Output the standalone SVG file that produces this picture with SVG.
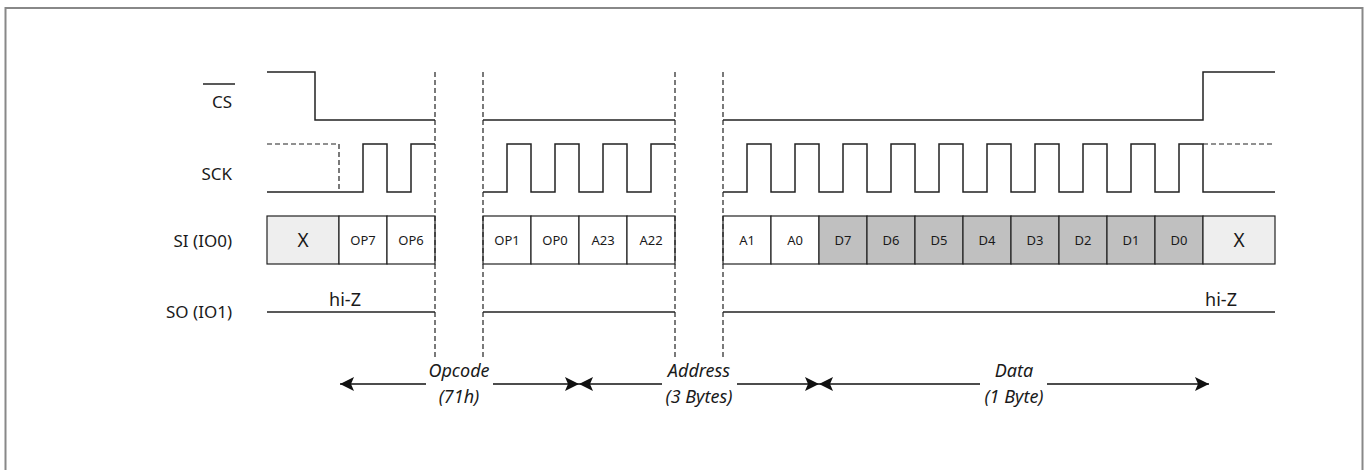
<svg xmlns="http://www.w3.org/2000/svg" width="1370" height="470" viewBox="0 0 1370 470">
<defs>
<style>
.w{fill:none;stroke:#222;stroke-width:1.5}
.d{fill:none;stroke:#222;stroke-width:1.2;stroke-dasharray:5,3}
.cell{stroke:#222;stroke-width:1.2}
.wh{fill:#fff}.gr{fill:#c0c0c0}.lg{fill:#eeeeee}
.lbl{font-family:"Noto Sans","Open Sans",sans-serif;font-size:17px;fill:#1a1a1a;text-anchor:end}
.ct{font-family:"Noto Sans","Open Sans",sans-serif;font-size:13px;fill:#1a1a1a;text-anchor:middle}
.cx{font-family:"Noto Sans","Open Sans",sans-serif;font-size:19px;fill:#1a1a1a;text-anchor:middle}
.hz{font-family:"Noto Sans","Open Sans",sans-serif;font-size:18px;fill:#1a1a1a;text-anchor:middle}
.it{font-family:"Noto Sans","Open Sans",sans-serif;font-size:18px;font-style:italic;fill:#1a1a1a;text-anchor:middle}
.ar{fill:none;stroke:#111;stroke-width:1.3}
</style>
<marker id="ah" viewBox="0 0 14 14" refX="14" refY="7" markerWidth="14" markerHeight="14" markerUnits="userSpaceOnUse" orient="auto-start-reverse">
<path d="M0,0 L14,7 L0,14 L3,7 Z" fill="#111"/>
</marker>
</defs>
<rect x="5.5" y="8" width="1357" height="480" fill="none" stroke="#888" stroke-width="2"/>

<g id="labels">
<text class="lbl" x="232" y="108">CS</text>
<line x1="203" y1="84" x2="235" y2="84" stroke="#222" stroke-width="1.5"/>
<text class="lbl" x="232" y="180">SCK</text>
<text class="lbl" x="232" y="247">SI (IO0)</text>
<text class="lbl" x="232" y="318">SO (IO1)</text>
</g>

<g id="cs">
<polyline class="w" points="267,72 315,72 315,120 435,120"/>
<line class="w" x1="483" y1="120" x2="675" y2="120"/>
<polyline class="w" points="723,120 1203,120 1203,72 1275,72"/>
</g>

<g id="sck">
<polyline class="d" points="267,144 339,144 339,192"/>
<polyline class="w" points="267,192 363,192 363,144 387,144 387,192 411,192 411,144 435,144"/>
<polyline class="w" points="483,192 507,192 507,144 531,144 531,192 555,192 555,144 579,144 579,192 603,192 603,144 627,144 627,192 651,192 651,144 675,144"/>
<polyline class="w" points="723,192 747,192 747,144 771,144 771,192 795,192 795,144 819,144 819,192 843,192 843,144 867,144 867,192 891,192 891,144 915,144 915,192 939,192 939,144 963,144 963,192 987,192 987,144 1011,144 1011,192 1035,192 1035,144 1059,144 1059,192 1083,192 1083,144 1107,144 1107,192 1131,192 1131,144 1155,144 1155,192 1179,192 1179,144 1203,144 1203,192 1275,192"/>
<line class="d" x1="1203" y1="144" x2="1275" y2="144"/>
</g>

<g id="si">
<rect class="cell lg" x="267" y="216" width="72" height="48"/>
<text class="cx" x="303" y="247">X</text>
<rect class="cell wh" x="339" y="216" width="48" height="48"/>
<text class="ct" x="363" y="245">OP7</text>
<rect class="cell wh" x="387" y="216" width="48" height="48"/>
<text class="ct" x="411" y="245">OP6</text>
<rect class="cell wh" x="483" y="216" width="48" height="48"/>
<text class="ct" x="507" y="245">OP1</text>
<rect class="cell wh" x="531" y="216" width="48" height="48"/>
<text class="ct" x="555" y="245">OP0</text>
<rect class="cell wh" x="579" y="216" width="48" height="48"/>
<text class="ct" x="603" y="245">A23</text>
<rect class="cell wh" x="627" y="216" width="48" height="48"/>
<text class="ct" x="651" y="245">A22</text>
<rect class="cell wh" x="723" y="216" width="48" height="48"/>
<text class="ct" x="747" y="245">A1</text>
<rect class="cell wh" x="771" y="216" width="48" height="48"/>
<text class="ct" x="795" y="245">A0</text>
<rect class="cell gr" x="819" y="216" width="48" height="48"/>
<text class="ct" x="843" y="245">D7</text>
<rect class="cell gr" x="867" y="216" width="48" height="48"/>
<text class="ct" x="891" y="245">D6</text>
<rect class="cell gr" x="915" y="216" width="48" height="48"/>
<text class="ct" x="939" y="245">D5</text>
<rect class="cell gr" x="963" y="216" width="48" height="48"/>
<text class="ct" x="987" y="245">D4</text>
<rect class="cell gr" x="1011" y="216" width="48" height="48"/>
<text class="ct" x="1035" y="245">D3</text>
<rect class="cell gr" x="1059" y="216" width="48" height="48"/>
<text class="ct" x="1083" y="245">D2</text>
<rect class="cell gr" x="1107" y="216" width="48" height="48"/>
<text class="ct" x="1131" y="245">D1</text>
<rect class="cell gr" x="1155" y="216" width="48" height="48"/>
<text class="ct" x="1179" y="245">D0</text>
<rect class="cell lg" x="1203" y="216" width="72" height="48"/>
<text class="cx" x="1239" y="247">X</text>
</g>

<g id="so">
<line class="w" x1="267" y1="312" x2="435" y2="312"/>
<line class="w" x1="483" y1="312" x2="675" y2="312"/>
<line class="w" x1="723" y1="312" x2="1275" y2="312"/>
<text class="hz" x="345" y="306">hi-Z</text>
<text class="hz" x="1221" y="306">hi-Z</text>
</g>

<g id="connectors">
<line class="d" x1="435" y1="72" x2="435" y2="360"/>
<line class="d" x1="483" y1="72" x2="483" y2="360"/>
<line class="d" x1="675" y1="72" x2="675" y2="360"/>
<line class="d" x1="723" y1="72" x2="723" y2="360"/>
<line class="ar" x1="340" y1="384" x2="426" y2="384" marker-start="url(#ah)"/>
<line class="ar" x1="493" y1="384" x2="579" y2="384" marker-end="url(#ah)"/>
<line class="ar" x1="579" y1="384" x2="662" y2="384" marker-start="url(#ah)"/>
<line class="ar" x1="737" y1="384" x2="819" y2="384" marker-end="url(#ah)"/>
<line class="ar" x1="819" y1="384" x2="980" y2="384" marker-start="url(#ah)"/>
<line class="ar" x1="1047" y1="384" x2="1209" y2="384" marker-end="url(#ah)"/>
</g>

<g id="annotations">
<text class="it" x="459" y="377">Opcode</text>
<text class="it" x="459" y="403">(71h)</text>
<text class="it" x="699" y="377">Address</text>
<text class="it" x="699" y="403">(3 Bytes)</text>
<text class="it" x="1014" y="377">Data</text>
<text class="it" x="1014" y="403">(1 Byte)</text>
</g>
</svg>
